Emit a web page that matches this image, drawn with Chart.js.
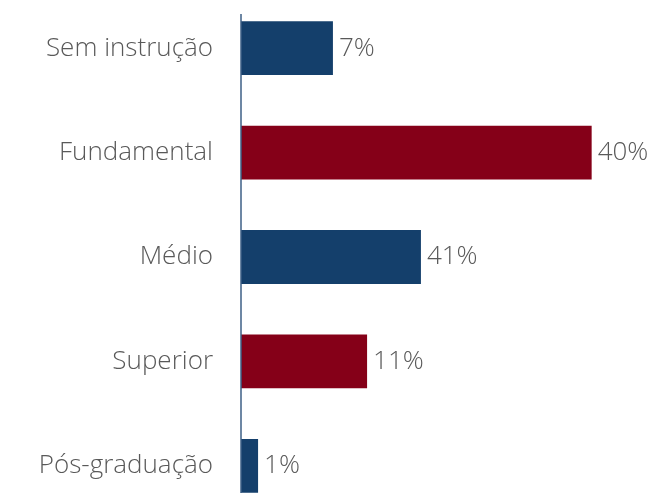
<!DOCTYPE html>
<html>
<head>
<meta charset="utf-8">
<script src="https://cdn.jsdelivr.net/npm/chart.js@4/dist/chart.umd.min.js"></script>
<style>
  html, body { margin: 0; padding: 0; background: #ffffff; overflow: hidden; width: 655px; height: 493px; }
  #wrap { position: absolute; left: 0; top: -4px; width: 655px; height: 522px; }
</style>
</head>
<body>
<div id="wrap"><canvas id="c"></canvas></div>
<script>
const categories = ["Sem instrução", "Fundamental", "Médio", "Superior", "Pós-graduação"];
const barValues = [7, 26.7, 13.7, 9.6, 1.3];
const valueLabels = ["7%", "40%", "41%", "11%", "1%"];
const barColors = ["#143f6b", "#850018", "#143f6b", "#850018", "#143f6b"];

const FONT = "'Open Sans', sans-serif";

const valueLabelPlugin = {
  id: 'valueLabels',
  afterDatasetsDraw(chart) {
    const ctx = chart.ctx;
    const meta = chart.getDatasetMeta(0);
    ctx.save();
    ctx.font = "300 26px " + FONT;
    ctx.fillStyle = "#595959";
    ctx.textAlign = "left";
    ctx.textBaseline = "middle";
    meta.data.forEach((bar, i) => {
      ctx.fillText(valueLabels[i], bar.x + 6, bar.y);
    });
    ctx.restore();
  }
};

const axisLinePlugin = {
  id: 'axisLine',
  afterDatasetsDraw(chart) {
    const ctx = chart.ctx;
    const x0 = chart.scales.x.getPixelForValue(0);
    const area = chart.chartArea;
    ctx.save();
    ctx.strokeStyle = "#3d5f86";
    ctx.lineWidth = 1.5;
    ctx.beginPath();
    ctx.moveTo(x0, area.top + 18);
    ctx.lineTo(x0, area.bottom);
    ctx.stroke();
    ctx.restore();
  }
};

new Chart(document.getElementById('c'), {
  type: 'bar',
  data: {
    labels: categories,
    datasets: [{
      data: barValues,
      backgroundColor: barColors,
      borderWidth: 0,
      categoryPercentage: 1.0,
      barPercentage: 0.515
    }]
  },
  options: {
    indexAxis: 'y',
    responsive: true,
    maintainAspectRatio: false,
    animation: false,
    events: [],
    layout: { autoPadding: false, padding: { left: 0, right: 20, top: 0, bottom: 0 } },
    plugins: { legend: { display: false }, tooltip: { enabled: false } },
    scales: {
      x: {
        display: false,
        min: 0,
        max: 30
      },
      y: {
        offset: true,
        grid: { display: false, drawTicks: false },
        border: { display: false },
        ticks: {
          color: "#595959",
          font: { family: FONT, size: 26, weight: 300 },
          padding: 28
        },
        afterFit(scale) {
          scale.width = 241;
          scale.paddingTop = 0;
          scale.paddingBottom = 0;
        }
      }
    }
  },
  plugins: [valueLabelPlugin, axisLinePlugin]
});
</script>
</body>
</html>
